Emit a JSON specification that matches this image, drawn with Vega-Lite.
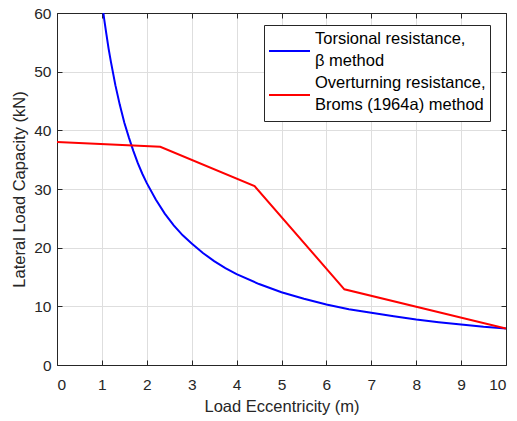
{
  "$schema": "https://vega.github.io/schema/vega-lite/v6.json",
  "width": 449,
  "height": 352,
  "autosize": {"type": "none"},
  "padding": {"left": 57, "top": 13, "right": 11, "bottom": 56},
  "background": "white",
  "config": {
    "font": "Liberation Sans",
    "view": {"stroke": null},
    "style": {"guide-label": {"lineHeight": 22, "dy": -20}},
    "axis": {
      "domainColor": "#262626",
      "domainWidth": 1,
      "tickColor": "#262626",
      "tickSize": -5,
      "labelColor": "#262626",
      "labelFontSize": 15.5,
      "titleColor": "#262626",
      "titleFontSize": 16.5,
      "titleFontWeight": "normal",
      "gridColor": "#dedede",
      "gridWidth": 1
    }
  },
  "data": {"values": [
    {"s": "Torsional resistance, β method", "x": 1.033, "y": 60.0},
    {"s": "Torsional resistance, β method", "x": 1.05, "y": 59.0},
    {"s": "Torsional resistance, β method", "x": 1.1, "y": 56.4},
    {"s": "Torsional resistance, β method", "x": 1.15, "y": 53.9},
    {"s": "Torsional resistance, β method", "x": 1.2, "y": 51.7},
    {"s": "Torsional resistance, β method", "x": 1.3, "y": 47.7},
    {"s": "Torsional resistance, β method", "x": 1.4, "y": 44.3},
    {"s": "Torsional resistance, β method", "x": 1.5, "y": 41.3},
    {"s": "Torsional resistance, β method", "x": 1.6, "y": 38.8},
    {"s": "Torsional resistance, β method", "x": 1.7, "y": 36.5},
    {"s": "Torsional resistance, β method", "x": 1.8, "y": 34.4},
    {"s": "Torsional resistance, β method", "x": 1.9, "y": 32.6},
    {"s": "Torsional resistance, β method", "x": 2.0, "y": 31.0},
    {"s": "Torsional resistance, β method", "x": 2.2, "y": 28.2},
    {"s": "Torsional resistance, β method", "x": 2.4, "y": 25.8},
    {"s": "Torsional resistance, β method", "x": 2.6, "y": 23.8},
    {"s": "Torsional resistance, β method", "x": 2.8, "y": 22.1},
    {"s": "Torsional resistance, β method", "x": 3.0, "y": 20.7},
    {"s": "Torsional resistance, β method", "x": 3.25, "y": 19.1},
    {"s": "Torsional resistance, β method", "x": 3.5, "y": 17.7},
    {"s": "Torsional resistance, β method", "x": 3.75, "y": 16.5},
    {"s": "Torsional resistance, β method", "x": 4.0, "y": 15.5},
    {"s": "Torsional resistance, β method", "x": 4.5, "y": 13.8},
    {"s": "Torsional resistance, β method", "x": 5.0, "y": 12.4},
    {"s": "Torsional resistance, β method", "x": 5.5, "y": 11.3},
    {"s": "Torsional resistance, β method", "x": 6.0, "y": 10.3},
    {"s": "Torsional resistance, β method", "x": 6.5, "y": 9.5},
    {"s": "Torsional resistance, β method", "x": 7.0, "y": 8.9},
    {"s": "Torsional resistance, β method", "x": 7.5, "y": 8.3},
    {"s": "Torsional resistance, β method", "x": 8.0, "y": 7.75},
    {"s": "Torsional resistance, β method", "x": 8.5, "y": 7.3},
    {"s": "Torsional resistance, β method", "x": 9.0, "y": 6.9},
    {"s": "Torsional resistance, β method", "x": 9.5, "y": 6.5},
    {"s": "Torsional resistance, β method", "x": 10.0, "y": 6.2},
    {"s": "Overturning resistance, Broms (1964a) method", "x": 0, "y": 38.0},
    {"s": "Overturning resistance, Broms (1964a) method", "x": 2.3, "y": 37.2},
    {"s": "Overturning resistance, Broms (1964a) method", "x": 4.4, "y": 30.5},
    {"s": "Overturning resistance, Broms (1964a) method", "x": 6.4, "y": 12.9},
    {"s": "Overturning resistance, Broms (1964a) method", "x": 10.0, "y": 6.2}
  ]},
  "layer": [
    {
      "mark": {"type": "line", "strokeWidth": 2, "clip": true},
      "encoding": {
        "x": {"field": "x", "type": "quantitative",
          "scale": {"domain": [0, 10], "nice": false},
          "axis": {"title": "Load Eccentricity (m)", "values": [0,1,2,3,4,5,6,7,8,9,10], "labelPadding": 37, "titlePadding": 6}},
        "y": {"field": "y", "type": "quantitative",
          "scale": {"domain": [0, 60], "nice": false},
          "axis": {"title": "Lateral Load Capacity (kN)", "values": [0,10,20,30,40,50,60], "labelPadding": 11, "labelOffset": 20, "titlePadding": 6}},
        "color": {"field": "s", "type": "nominal",
          "scale": {"domain": ["Torsional resistance, β method", "Overturning resistance, Broms (1964a) method"], "range": ["#0000ff", "#ff0000"]},
          "legend": {
            "title": null,
            "orient": "none",
            "legendX": 207,
            "legendY": 12,
            "fillColor": "white",
            "strokeColor": "#262626",
            "padding": 4,
            "symbolType": "stroke",
            "symbolSize": 1681,
            "symbolStrokeWidth": 2,
            "labelFontSize": 16.5,
            "labelColor": "#000000",
            "labelLimit": 300,
            "labelOffset": 4,
            "labelBaseline": "top",
            "rowPadding": 0,
            "clipHeight": 44,
            "labelExpr": "[slice(datum.label, 0, indexof(datum.label, ',') + 1), slice(datum.label, indexof(datum.label, ',') + 2)]"
          }},
        "detail": {"field": "s"}
      }
    },
    {
      "mark": {"type": "line", "strokeOpacity": 0},
      "encoding": {
        "x": {"field": "x", "type": "quantitative",
          "axis": {"orient": "top", "title": null, "labels": false, "grid": false, "values": [0,1,2,3,4,5,6,7,8,9,10]}},
        "y": {"field": "y", "type": "quantitative",
          "axis": {"orient": "right", "title": null, "labels": false, "grid": false, "values": [0,10,20,30,40,50,60]}},
        "detail": {"field": "s"}
      }
    }
  ],
  "resolve": {"axis": {"x": "independent", "y": "independent"}}
}
